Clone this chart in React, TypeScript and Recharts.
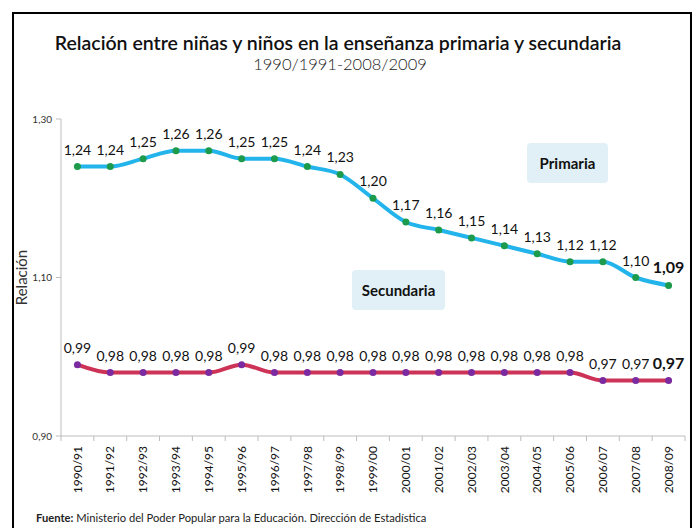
import { LineChart, Line, XAxis, YAxis, LabelList } from "recharts";

const categories = [
  "1990/91", "1991/92", "1992/93", "1993/94", "1994/95", "1995/96", "1996/97",
  "1997/98", "1998/99", "1999/00", "2000/01", "2001/02", "2002/03", "2003/04",
  "2004/05", "2005/06", "2006/07", "2007/08", "2008/09",
];
const primaria = [1.24, 1.24, 1.25, 1.26, 1.26, 1.25, 1.25, 1.24, 1.23, 1.2, 1.17, 1.16, 1.15, 1.14, 1.13, 1.12, 1.12, 1.1, 1.09];
const secundaria = [0.99, 0.98, 0.98, 0.98, 0.98, 0.99, 0.98, 0.98, 0.98, 0.98, 0.98, 0.98, 0.98, 0.98, 0.98, 0.98, 0.97, 0.97, 0.97];
const yTicks = [0.9, 1.1, 1.3];

const data = categories.map((name, i) => ({ name, primaria: primaria[i], secundaria: secundaria[i] }));

const FONT = "Lato, 'Open Sans', sans-serif";
const PLOT_LEFT = 61;
const PLOT_RIGHT = 685;
const BAND = (PLOT_RIGHT - PLOT_LEFT) / categories.length;

const fmt = (v: number) => v.toFixed(2).replace(".", ",");

function XTick(props: any) {
  const { x, y, payload, index } = props;
  const last = index === categories.length - 1;
  return (
    <g>
      <line x1={x - BAND / 2} y1={y - 8} x2={x - BAND / 2} y2={y - 3} stroke="#bdbdbd" />
      {last && <line x1={x + BAND / 2} y1={y - 8} x2={x + BAND / 2} y2={y - 3} stroke="#bdbdbd" />}
      <text
        x={0}
        y={0}
        transform={`translate(${x},${y + 2}) rotate(-90)`}
        textAnchor="end"
        dy="0.35em"
        fontSize={12}
        fontFamily={FONT}
        fill="#111"
      >
        {payload.value}
      </text>
    </g>
  );
}

function YTick(props: any) {
  const { x, y, payload } = props;
  return (
    <text x={x - 2} y={y} dy="0.35em" textAnchor="end" fontSize={10} fontFamily={FONT} fill="#333">
      {fmt(payload.value)}
    </text>
  );
}

function YLabel(props: any) {
  const { viewBox } = props;
  const cx = viewBox.x + 22;
  const cy = viewBox.y + viewBox.height / 2;
  return (
    <text
      x={cx}
      y={cy}
      transform={`rotate(-90, ${cx}, ${cy})`}
      textAnchor="middle"
      dy="0.35em"
      fontSize={15}
      fontFamily={FONT}
      fill="#333"
    >
      Relación
    </text>
  );
}

function makeLabel(lift: number) {
  return (props: any) => {
    const { x, y, value, index } = props;
    const last = index === categories.length - 1;
    return (
      <text
        x={x}
        y={y - lift}
        textAnchor="middle"
        fontSize={last ? 16 : 14}
        fontWeight={last ? 700 : 400}
        fontFamily={FONT}
        fill="#111"
      >
        {fmt(value)}
      </text>
    );
  };
}

const boxStyle: React.CSSProperties = {
  position: "absolute",
  background: "#e0f0f6",
  borderRadius: 4,
  display: "flex",
  alignItems: "center",
  justifyContent: "center",
  fontFamily: FONT,
  fontWeight: 700,
  fontSize: 15,
  color: "#111",
};

export default function App() {
  return (
    <div style={{ position: "absolute", left: 0, top: 0, width: 696, height: 528, background: "#fff", overflow: "hidden" }}>
      <div style={{ position: "absolute", left: 12, top: 12, width: 676, height: 530, border: "2px solid #000" }} />
      <div
        style={{
          position: "absolute", left: 0, top: 31, width: 676, textAlign: "center",
          fontFamily: FONT, fontSize: 19.5, fontWeight: 600, color: "#111",
        }}
      >
        Relación entre niñas y niños en la enseñanza primaria y secundaria
      </div>
      <div
        style={{
          position: "absolute", left: 0, top: 54, width: 680, textAlign: "center",
          fontFamily: FONT, fontSize: 16.5, fontWeight: 300, color: "#222",
        }}
      >
        1990/1991-2008/2009
      </div>
      <div style={{ ...boxStyle, left: 527, top: 143, width: 81, height: 40 }}>Primaria</div>
      <div style={{ ...boxStyle, left: 352, top: 270, width: 93, height: 40 }}>Secundaria</div>
      <div
        style={{
          position: "absolute", left: 36, top: 511, fontFamily: FONT, fontSize: 11.2, color: "#222",
        }}
      >
        <b>Fuente:</b> Ministerio del Poder Popular para la Educación. Dirección de Estadística
      </div>
      <div style={{ position: "absolute", left: 0, top: 0 }}>
        <LineChart width={696} height={528} data={data} margin={{ top: 119, right: 696 - PLOT_RIGHT, bottom: 0, left: 0 }}>
          <XAxis
            dataKey="name"
            height={92}
            stroke="#bdbdbd"
            tickLine={false}
            tick={<XTick />}
            interval={0}
            padding={{ left: BAND / 2, right: BAND / 2 }}
          />
          <YAxis
            width={PLOT_LEFT}
            domain={[0.9, 1.3]}
            ticks={yTicks}
            stroke="#bdbdbd"
            tickSize={5}
            tick={<YTick />}
            label={<YLabel />}
          />
          <Line
            type="monotone"
            dataKey="primaria"
            stroke="#22b4ea"
            strokeWidth={4}
            dot={{ r: 3.5, fill: "#1c9b4c", stroke: "#1c9b4c", strokeWidth: 0 }}
            isAnimationActive={false}
          >
            <LabelList dataKey="primaria" content={makeLabel(12)} />
          </Line>
          <Line
            type="monotone"
            dataKey="secundaria"
            stroke="#cc3356"
            strokeWidth={4}
            dot={{ r: 3.5, fill: "#7b2aa0", stroke: "#7b2aa0", strokeWidth: 0 }}
            isAnimationActive={false}
          >
            <LabelList dataKey="secundaria" content={makeLabel(12)} />
          </Line>
        </LineChart>
      </div>
    </div>
  );
}
